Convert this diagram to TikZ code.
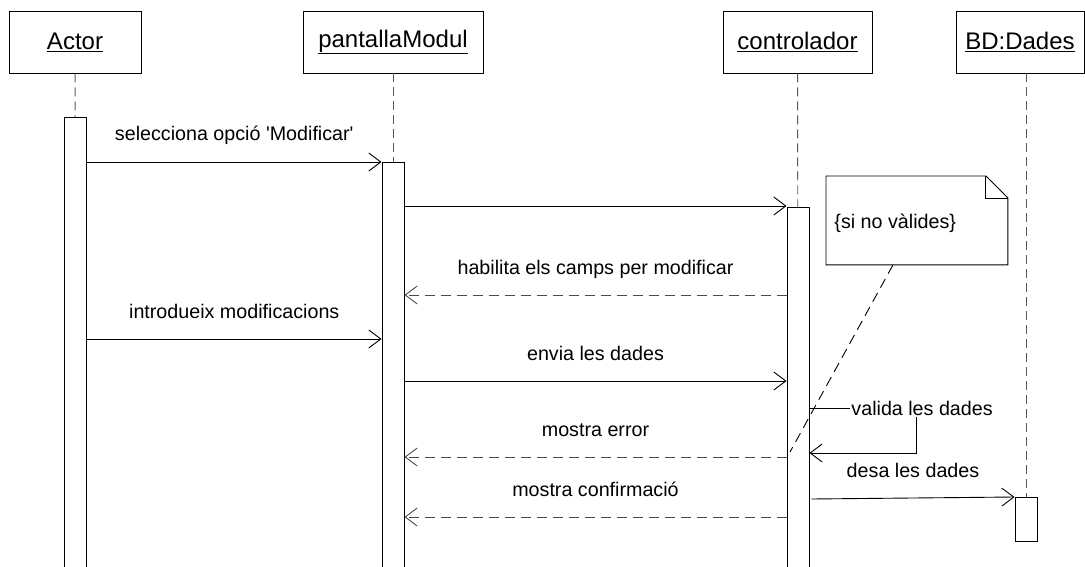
\documentclass[tikz,border=0pt]{standalone}
\usepackage{fontspec}
\setmainfont{Liberation Sans}
\usetikzlibrary{arrows.meta}
\begin{document}
\begin{tikzpicture}[x=1pt,y=-1pt,line width=.9pt,
  >={Straight Barb[length=12pt,width=18pt]},
  font=\fontsize{19.7}{23}\selectfont,
  head/.style={draw,minimum height=62pt,inner sep=0pt,font=\fontsize{24}{28}\selectfont},
  act/.style={draw,fill=white,minimum width=22pt,inner sep=0pt,anchor=north},
  life/.style={draw=black!65,dash pattern=on 9pt off 5pt},
  ret/.style={->,draw=black!70,dash pattern=on 10pt off 6pt},
  lbl/.style={midway,anchor=base,yshift=21pt,inner sep=0pt}]
\useasboundingbox (0,0) rectangle (1085,567);
% objectes
\node[head,minimum width=132pt] (actor) at (75,42) {\underline{Actor}};
\node[head,minimum width=180pt] (pant) at (393,42) {\underline{pantallaModul}};
\node[head,minimum width=149pt] (ctrl) at (797.5,42) {\underline{controlador}};
\node[head,minimum width=128pt] (bd) at (1020,42) {\underline{BD:Dades}};
% activacions
\node[act,minimum height=470pt] (aA) at (75.5,117) {};
\node[act,minimum height=420pt] (aP) at (393,162) {};
\node[act,minimum height=380pt] (aC) at (798,207) {};
\node[act,minimum height=44pt] (aB) at (1026,497) {};
\draw[life] (actor) -- (aA);
\draw[life] (pant) -- (aP);
\draw[life] (ctrl) -- (aC);
\draw[life] (aB.north |- bd.south) -- (aB);
% missatges
\draw[->] (aA.east |- 0,162) -- (aP.west |- 0,162) node[lbl] {selecciona opció \textquotesingle Modificar\textquotesingle};
\draw[->] (aP.east |- 0,206) -- (aC.west |- 0,206);
\draw[ret] (aC.west |- 0,295) -- (aP.east |- 0,295) node[lbl] {habilita els camps per modificar};
\draw[->] (aA.east |- 0,339) -- (aP.west |- 0,339) node[lbl] {introdueix modificacions};
\draw[->] (aP.east |- 0,381) -- (aC.west |- 0,381) node[lbl] {envia les dades};
\node[anchor=west,inner sep=1pt] (valida) at (850,408) {valida les dades};
\draw (aC.east |- 0,408) -- (valida.west);
\draw[->] (valida.south -| 916,0) |- (aC.east |- 0,453);
\draw[ret] (aC.west |- 0,457) -- (aP.east |- 0,457) node[lbl] {mostra error};
\draw[->] ([xshift=2pt]aC.east |- 0,499) -- (aB.north west) node[lbl] {desa les dades};
\draw[ret] (aC.west |- 0,517) -- (aP.east |- 0,517) node[lbl] {mostra confirmació};
% nota
\node[anchor=north west,minimum width=181pt,minimum height=88pt,inner sep=0pt] (note) at (826,176) {};
\draw (note.south west) -- (note.north west) -- ([xshift=-22pt]note.north east)
  -- ([yshift=-22pt]note.north east) -- (note.south east) -- cycle;
\draw ([xshift=-22pt]note.north east) |- ([yshift=-22pt]note.north east);
\node[anchor=base west,inner sep=0pt] (notetxt) at (834,229) {\{si no vàlides\}};
\coordinate (noteend) at (790,452);
\draw[dash pattern=on 10pt off 6pt] (note.south -| 893,0) -- (noteend);
\end{tikzpicture}
\end{document}
